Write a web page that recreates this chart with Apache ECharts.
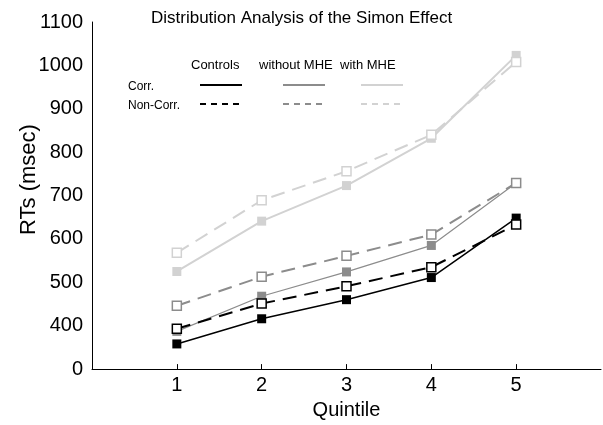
<!DOCTYPE html>
<html>
<head>
<meta charset="utf-8">
<script src="https://cdn.jsdelivr.net/npm/echarts@6/dist/echarts.min.js"></script>
<style>
	html, body { margin: 0; padding: 0; background: #fff; }
	#chart { width: 603px; height: 425px; }
</style>
</head>
<body>
<div id="chart"></div>
<script>
// quintiles 1..5
const quintiles = [1, 2, 3, 4, 5];
// y tick values (the 300 position is drawn as "0" -- broken axis)
const yTicks = [300, 400, 500, 600, 700, 800, 900, 1000, 1100];
const yTickLabels = { 300: "0" };

// RTs (msec)
const controlsCorr = [358, 416, 460, 511, 648];
const controlsNonCorr = [393, 451, 491, 535, 633];
const withoutCorr = [387, 468, 524, 585, 729];
const withoutNonCorr = [446, 513, 561, 610, 729];
const withCorr = [525, 641, 723, 832, 1023];
const withNonCorr = [568, 689, 756, 840, 1008];

const groupNames = ["Controls", "without MHE", "with MHE"];
const rowNames = ["Corr.", "Non-Corr."];

const BLACK = "#000000";
const GRAY = "#8c8c8c";
const LIGHT = "#d2d2d2";
const FONT = "Liberation Sans, Arial, sans-serif";

const pair = vals => vals.map((v, i) => [quintiles[i], v]);

const makeSeries = (name, vals, color, dashed, width) => ({
	name: name,
	type: "line",
	data: pair(vals),
	symbol: "rect",
	symbolSize: 9,
	z: dashed ? 3 : 2,
	lineStyle: {
		color: color,
		width: width,
		type: dashed ? [14, 8] : "solid"
	},
	itemStyle: dashed
		? { color: "#fff", borderColor: color, borderWidth: 1.5 }
		: { color: color, borderWidth: 0 },
	emphasis: { disabled: true },
	animation: false
});

// legend drawn by hand (matlab style block)
const legendX = [200, 283, 361];
const headerX = [191, 259, 340];
const legendColors = [BLACK, GRAY, LIGHT];
const graphic = [];
headerX.forEach((x, i) => {
	graphic.push({
		type: "text", left: x, top: 59,
		style: { text: groupNames[i], font: "13px " + FONT, fill: "#000" }
	});
});
rowNames.forEach((t, r) => {
	graphic.push({
		type: "text", left: 128, top: 81 + r * 19,
		style: { text: t, font: "12px " + FONT, fill: "#000" }
	});
	legendX.forEach((x, i) => {
		graphic.push({
			type: "line",
			shape: { x1: x, y1: 85 + r * 19, x2: x + 42, y2: 85 + r * 19 },
			style: {
				stroke: legendColors[i],
				lineWidth: 2,
				lineDash: r === 1 ? [6, 5] : null
			}
		});
	});
});

const chart = echarts.init(document.getElementById("chart"));
chart.setOption({
	animation: false,
	backgroundColor: "#fff",
	title: {
		text: "Distribution Analysis of the Simon Effect",
		left: 151,
		top: 10,
		padding: 0,
		textStyle: { fontFamily: FONT, fontSize: 17, fontWeight: "normal", color: "#000" }
	},
	grid: { left: 92, right: 2, top: 22, bottom: 54 },
	xAxis: {
		type: "value",
		min: 0,
		max: 6,
		interval: 1,
		name: "Quintile",
		nameLocation: "middle",
		nameGap: 28,
		nameTextStyle: { fontFamily: FONT, fontSize: 20, color: "#000" },
		splitLine: { show: false },
		axisLine: { lineStyle: { color: "#000", width: 1 } },
		axisTick: {
			inside: true,
			length: 5,
			lineStyle: { color: "#000" },
			customValues: quintiles
		},
		axisLabel: {
			fontFamily: FONT, fontSize: 20, color: "#000", margin: 6,
			customValues: quintiles
		}
	},
	yAxis: {
		type: "value",
		min: 300,
		max: 1100,
		interval: 100,
		name: "RTs (msec)",
		nameLocation: "middle",
		nameGap: 52,
		nameMoveOverlap: false,
		nameTextStyle: { fontFamily: FONT, fontSize: 22, color: "#000", padding: [0, 0, 0, 32] },
		splitLine: { show: false },
		axisLine: { show: true, lineStyle: { color: "#000", width: 1 } },
		axisTick: { show: false },
		axisLabel: {
			fontFamily: FONT, fontSize: 20, color: "#000", margin: 9,
			customValues: yTicks,
			formatter: v => (yTickLabels[v] !== undefined ? yTickLabels[v] : String(v))
		}
	},
	graphic: graphic,
	series: [
		makeSeries("with MHE Corr.", withCorr, LIGHT, false, 2),
		makeSeries("with MHE Non-Corr.", withNonCorr, LIGHT, true, 2),
		makeSeries("without MHE Corr.", withoutCorr, GRAY, false, 1.2),
		makeSeries("without MHE Non-Corr.", withoutNonCorr, GRAY, true, 2),
		makeSeries("Controls Corr.", controlsCorr, BLACK, false, 1.5),
		makeSeries("Controls Non-Corr.", controlsNonCorr, BLACK, true, 2)
	]
});
</script>
</body>
</html>
